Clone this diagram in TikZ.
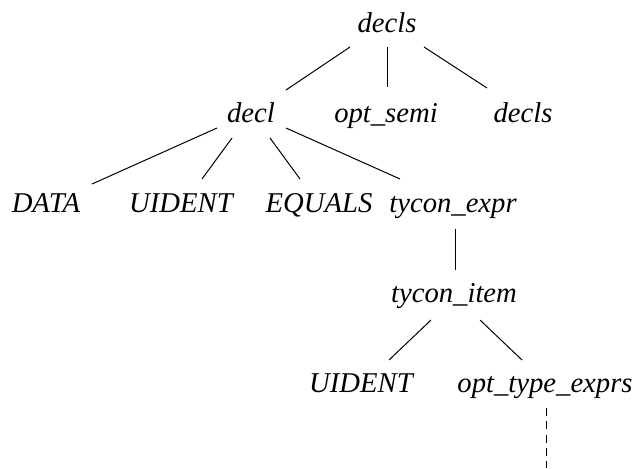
\documentclass[tikz,border=0pt]{standalone}
\usepackage{fontspec}
\setmainfont{Liberation Serif}
\usetikzlibrary{calc}

\begin{document}
\begin{tikzpicture}[x=0.75pt, y=-0.75pt,
    sym/.style={font=\fontsize{21.5}{25}\selectfont\itshape, inner sep=0pt, anchor=base},
    tree/.style={line width=0.75pt}]
    \useasboundingbox (0,0) rectangle (634,468);
    % Nodes, row by row (placed on their baselines)
    \node[sym] (decls)   at (387,32)  {decls};
    \node[sym] (decl)    at (251,122) {decl};
    \node[sym] (optsemi) at (386,122) {opt\_semi};
    \node[sym] (declsb)  at (523,122) {decls};
    \node[sym] (data)    at (46,212)  {DATA};
    \node[sym] (uidentA) at (181,212) {UIDENT};
    \node[sym] (equals)  at (319,212) {EQUALS};
    \node[sym] (tyexpr)  at (453,212) {tycon\_expr};
    \node[sym] (tyitem)  at (454,302) {tycon\_item};
    \node[sym] (uidentB) at (361,392) {UIDENT};
    \node[sym] (optty)   at (545,392) {opt\_type\_exprs};
    \coordinate (rest) at (546,468);
    % Edges: parent, child, offsets from their baselines
    \foreach \p/\c/\px/\py/\cx/\cy in {
      decls/decl/-37/15/35/-32,
      decls/optsemi/0/15/1/-35,
      decls/declsb/37/15/-36/-34,
      decl/data/-34/6/46/-28,
      decl/uidentA/-19/16/21/-33,
      decl/equals/19/16/-19/-33,
      decl/tyexpr/35/6/-53/-33,
      tyexpr/tyitem/2/17/1/-32,
      tyitem/uidentB/-23/18/28/-32,
      tyitem/optty/26/18/-23/-32} {
      \draw[tree] ($(\p.base)+(\px,\py)$) -- ($(\c.base)+(\cx,\cy)$);
    }
    \draw[tree, dash pattern=on 6pt off 4pt] ($(optty.base)+(1,16)$) -- (rest);
\end{tikzpicture}
\end{document}
